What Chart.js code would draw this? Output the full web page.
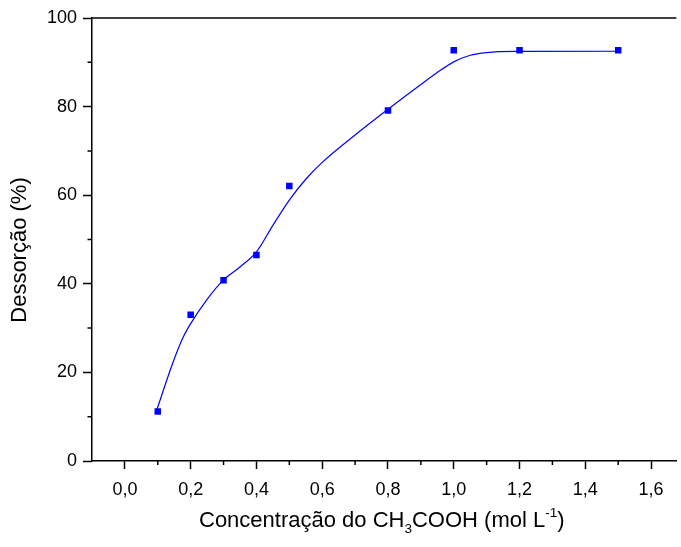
<!DOCTYPE html>
<html>
<head>
<meta charset="utf-8">
<script src="https://cdn.jsdelivr.net/npm/chart.js@4"></script>
<style>
  html, body { margin: 0; padding: 0; background: #fff; }
  #wrap { width: 681px; height: 547px; }
</style>
</head>
<body>
<div id="wrap"><canvas id="c" width="681" height="547"></canvas></div>
<script>
// Measured points
const concentrations = [0.1, 0.2, 0.3, 0.4, 0.5, 0.8, 1.0, 1.2, 1.5];
const desorption = [11.2, 33.0, 40.8, 46.5, 62.1, 79.1, 92.7, 92.7, 92.7];

// Smooth fitted curve
const curveX = [0.097, 0.145, 0.175, 0.20, 0.25, 0.30, 0.35, 0.40, 0.45, 0.50, 0.55, 0.60, 0.70, 0.80, 0.90, 0.95, 1.00, 1.05, 1.10, 1.20, 1.50];
const curveY = [11.5, 22.0, 27.6, 31.0, 36.5, 40.9, 43.8, 47.2, 53.2, 58.9, 63.6, 67.4, 73.6, 79.4, 85.0, 87.7, 90.1, 91.6, 92.2, 92.45, 92.5];

// Axis ticks
const xMajorStep = 0.2;
const xMinorTicks = [0.1, 0.3, 0.5, 0.7, 0.9, 1.1, 1.3, 1.5];
const yMajorStep = 20;
const yMinorTicks = [10, 30, 50, 70, 90];

const xTitleParts = [
  { t: 'Concentração do CH', k: 'n' },
  { t: '3', k: 'sub' },
  { t: 'COOH (mol L', k: 'n' },
  { t: '-1', k: 'sup' },
  { t: ')', k: 'n' }
];
const yTitle = 'Dessorção (%)';

const FONT = "'Liberation Sans', Arial, sans-serif";

const decor = {
  id: 'decor',
  afterDraw(chart) {
    const ctx = chart.ctx;
    const a = chart.chartArea;
    const xs = chart.scales.x, ys = chart.scales.y;
    ctx.save();
    ctx.strokeStyle = '#000';
    ctx.lineWidth = 1.5;
    // top border line
    ctx.beginPath();
    ctx.moveTo(a.left, a.top);
    ctx.lineTo(a.right, a.top);
    ctx.stroke();
    // minor ticks
    ctx.beginPath();
    xMinorTicks.forEach(v => {
      const px = xs.getPixelForValue(v);
      ctx.moveTo(px, a.bottom);
      ctx.lineTo(px, a.bottom + 4);
    });
    yMinorTicks.forEach(v => {
      const py = ys.getPixelForValue(v);
      ctx.moveTo(a.left, py);
      ctx.lineTo(a.left - 4.5, py);
    });
    ctx.stroke();

    // x title
    ctx.fillStyle = '#000';
    ctx.textBaseline = 'alphabetic';
    ctx.textAlign = 'left';
    let x = 199;
    const base = 527;
    xTitleParts.forEach(p => {
      let size = 22, dy = 0;
      if (p.k === 'sub') { size = 13.5; dy = 6; }
      if (p.k === 'sup') { size = 13.5; dy = -10; }
      ctx.font = size + 'px ' + FONT;
      ctx.fillText(p.t, x, base + dy);
      x += ctx.measureText(p.t).width;
    });

    // y title
    ctx.save();
    ctx.translate(20, 250);
    ctx.rotate(-Math.PI / 2);
    ctx.font = '22px ' + FONT;
    ctx.textAlign = 'center';
    ctx.textBaseline = 'middle';
    ctx.fillText(yTitle, 0, 0);
    ctx.restore();

    ctx.restore();
  }
};

new Chart(document.getElementById('c'), {
  type: 'scatter',
  data: {
    datasets: [
      {
        label: 'fit',
        data: curveX.map((v, i) => ({ x: v, y: curveY[i] })),
        showLine: true,
        borderColor: '#0000ff',
        borderWidth: 1.2,
        pointRadius: 0,
        tension: 0.4,
        cubicInterpolationMode: 'monotone',
        fill: false
      },
      {
        label: 'Dessorção',
        data: concentrations.map((v, i) => ({ x: v, y: desorption[i] })),
        showLine: false,
        pointStyle: 'rect',
        pointRadius: 4.6,
        backgroundColor: '#0000ff',
        borderColor: '#0000ff',
        borderWidth: 0
      }
    ]
  },
  options: {
    responsive: false,
    animation: false,
    devicePixelRatio: 1,
    layout: { padding: { top: 18, right: 0, left: 0, bottom: 0 } },
    plugins: { legend: { display: false }, tooltip: { enabled: false } },
    scales: {
      x: {
        type: 'linear',
        min: -0.1,
        max: 1.677,
        grid: { display: true, drawOnChartArea: false, drawTicks: true, tickLength: 8, color: '#000', tickWidth: 1.5 },
        border: { display: true, color: '#000', width: 1.5 },
        ticks: {
          stepSize: xMajorStep,
          includeBounds: false,
          color: '#000',
          padding: 10,
          maxRotation: 0,
          autoSkip: false,
          font: { family: FONT, size: 18 },
          callback: v => v.toFixed(1).replace('.', ',')
        },
        afterFit(s) { s.height = 86; }
      },
      y: {
        type: 'linear',
        min: 0,
        max: 100,
        grid: { display: true, drawOnChartArea: false, drawTicks: true, tickLength: 9, color: '#000', tickWidth: 1.5 },
        border: { display: true, color: '#000', width: 1.5 },
        ticks: {
          stepSize: yMajorStep,
          color: '#000',
          padding: 6,
          font: { family: FONT, size: 18 },
          callback: v => String(v)
        },
        afterFit(s) { s.width = 92; }
      }
    }
  },
  plugins: [decor]
});
</script>
</body>
</html>
